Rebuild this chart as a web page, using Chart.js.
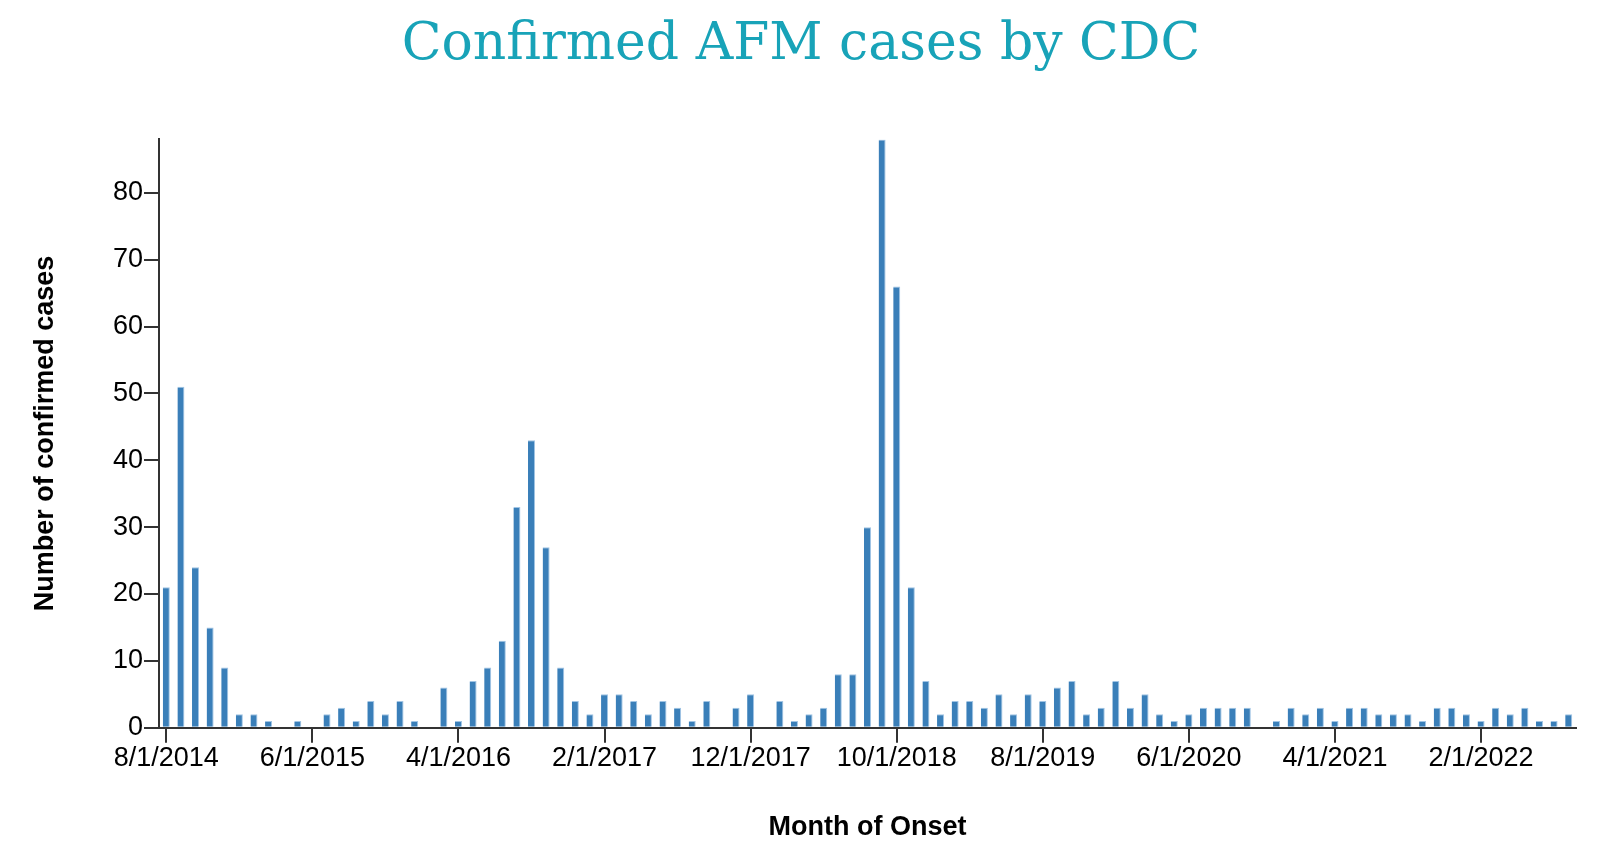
<!DOCTYPE html>
<html>
<head>
<meta charset="utf-8">
<script src="https://cdn.jsdelivr.net/npm/chart.js@4"></script>
<style>
  html, body { margin: 0; padding: 0; background: #ffffff; }
  #wrap { width: 1610px; height: 856px; position: relative; }
</style>
</head>
<body>
<div id="wrap"><canvas id="c"></canvas></div>
<script>
// Month of onset (first day of each month), Aug 2014 – Aug 2022
const months = [
  "8/1/2014","9/1/2014","10/1/2014","11/1/2014","12/1/2014",
  "1/1/2015","2/1/2015","3/1/2015","4/1/2015","5/1/2015","6/1/2015","7/1/2015","8/1/2015","9/1/2015","10/1/2015","11/1/2015","12/1/2015",
  "1/1/2016","2/1/2016","3/1/2016","4/1/2016","5/1/2016","6/1/2016","7/1/2016","8/1/2016","9/1/2016","10/1/2016","11/1/2016","12/1/2016",
  "1/1/2017","2/1/2017","3/1/2017","4/1/2017","5/1/2017","6/1/2017","7/1/2017","8/1/2017","9/1/2017","10/1/2017","11/1/2017","12/1/2017",
  "1/1/2018","2/1/2018","3/1/2018","4/1/2018","5/1/2018","6/1/2018","7/1/2018","8/1/2018","9/1/2018","10/1/2018","11/1/2018","12/1/2018",
  "1/1/2019","2/1/2019","3/1/2019","4/1/2019","5/1/2019","6/1/2019","7/1/2019","8/1/2019","9/1/2019","10/1/2019","11/1/2019","12/1/2019",
  "1/1/2020","2/1/2020","3/1/2020","4/1/2020","5/1/2020","6/1/2020","7/1/2020","8/1/2020","9/1/2020","10/1/2020","11/1/2020","12/1/2020",
  "1/1/2021","2/1/2021","3/1/2021","4/1/2021","5/1/2021","6/1/2021","7/1/2021","8/1/2021","9/1/2021","10/1/2021","11/1/2021","12/1/2021",
  "1/1/2022","2/1/2022","3/1/2022","4/1/2022","5/1/2022","6/1/2022","7/1/2022","8/1/2022"
];

// Confirmed cases per month, by year
const cases2014 = [21, 51, 24, 15, 9];
const cases2015 = [2, 2, 1, 0, 1, 0, 2, 3, 1, 4, 2, 4];
const cases2016 = [1, 0, 6, 1, 7, 9, 13, 33, 43, 27, 9, 4];
const cases2017 = [2, 5, 5, 4, 2, 4, 3, 1, 4, 0, 3, 5];
const cases2018 = [0, 4, 1, 2, 3, 8, 8, 30, 88, 66, 21, 7];
const cases2019 = [2, 4, 4, 3, 5, 2, 5, 4, 6, 7, 2, 3];
const cases2020 = [7, 3, 5, 2, 1, 2, 3, 3, 3, 3, 0, 1];
const cases2021 = [3, 2, 3, 1, 3, 3, 2, 2, 2, 1, 3, 3];
const cases2022 = [2, 1, 3, 2, 3, 1, 1, 2];

const yTicks = [0, 10, 20, 30, 40, 50, 60, 70, 80];
const xTickEvery = 10;

const cases = [].concat(cases2014, cases2015, cases2016, cases2017, cases2018,
                        cases2019, cases2020, cases2021, cases2022);
const yMax = Math.max.apply(null, cases);

const tickFont = { family: "'Liberation Sans', Arial, Helvetica, sans-serif", size: 27 };
const titleFont = { family: "'Liberation Sans', Arial, Helvetica, sans-serif", size: 27, weight: 'bold' };

new Chart(document.getElementById('c'), {
  type: 'bar',
  data: {
    labels: months,
    datasets: [{
      label: 'Confirmed cases',
      data: cases,
      backgroundColor: '#3a7fb9',
      borderColor: 'rgba(150,190,225,0.9)',
      borderWidth: { top: 1, right: 1, left: 0, bottom: 0 },
      categoryPercentage: 1.0,
      barPercentage: 0.48
    }]
  },
  options: {
    responsive: true,
    maintainAspectRatio: false,
    animation: false,
    devicePixelRatio: 1,
    layout: { padding: { left: 26, right: 34, top: 0, bottom: 0 } },
    plugins: {
      legend: { display: false },
      tooltip: { enabled: false },
      title: {
        display: true,
        text: 'Confirmed AFM cases by CDC',
        color: '#18a3b8',
        font: { family: "'DejaVu Serif', serif", size: 52, weight: 'normal' },
        padding: { top: 14, bottom: 63 }
      }
    },
    scales: {
      x: {
        type: 'category',
        offset: true,
        afterFit: (s) => { s.height = 128.3; },
        border: { display: true, color: '#333333', width: 2 },
        grid: {
          offset: false,
          drawOnChartArea: false,
          drawTicks: true,
          tickLength: 15,
          lineWidth: 2,
          color: (ctx) => (ctx.index % xTickEvery === 0 ? '#333333' : 'rgba(0,0,0,0)')
        },
        ticks: {
          autoSkip: false,
          maxRotation: 0,
          minRotation: 0,
          color: '#000000',
          font: tickFont,
          padding: 0,
          callback: function (val, i) { return i % xTickEvery === 0 ? months[i] : ''; }
        },
        title: {
          display: true,
          text: 'Month of Onset',
          color: '#000000',
          font: titleFont,
          padding: { top: 0, bottom: 12 }
        }
      },
      y: {
        min: 0,
        max: yMax,
        afterFit: (s) => { s.width = 133; },
        afterBuildTicks: (s) => { s.ticks = yTicks.map(v => ({ value: v })); },
        border: { display: true, color: '#333333', width: 2 },
        grid: {
          drawOnChartArea: false,
          drawTicks: true,
          tickLength: 15,
          lineWidth: 2,
          color: '#333333'
        },
        ticks: {
          stepSize: 10,
          includeBounds: false,
          color: '#000000',
          font: tickFont,
          padding: 1
        },
        title: {
          display: true,
          text: 'Number of confirmed cases',
          color: '#000000',
          font: titleFont,
          padding: { top: 3, bottom: 0 }
        }
      }
    }
  }
});
</script>
</body>
</html>
